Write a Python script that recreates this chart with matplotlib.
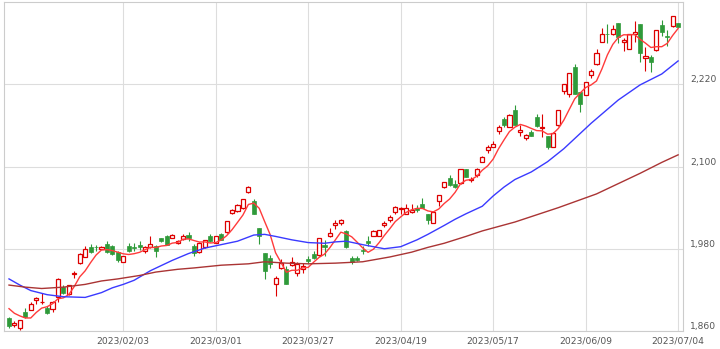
import numpy as np
import matplotlib.pyplot as plt

# daily OHLC, 2023/01/04 - 2023/07/04 (trading days)
opens = [1879, 1869, 1864, 1888, 1891, 1905, 1902, 1893, 1892, 1910,
         1924, 1914, 1943, 1959, 1968, 1983, 1983, 1980, 1987, 1984,
         1975, 1961, 1984, 1983, 1986, 1976, 1982, 1984, 1995, 1998,
         1996, 1988, 1994, 2000, 1984, 1975, 1983, 1998, 1989, 2002,
         2004, 2032, 2035, 2039, 2063, 2049, 2010, 1974, 1967, 1928,
         1952, 1951, 1956, 1944, 1950, 1965, 1973, 1971, 1985, 1998,
         2014, 2018, 2006, 1967, 1966, 1978, 1992, 1998, 1999, 2014,
         2022, 2033, 2038, 2031, 2033, 2040, 2046, 2030, 2018, 2050,
         2070, 2083, 2075, 2076, 2097, 2080, 2088, 2107, 2124, 2128,
         2152, 2169, 2158, 2183, 2150, 2141, 2151, 2172, 2156, 2144,
         2129, 2160, 2210, 2206, 2245, 2209, 2205, 2234, 2249, 2282,
         2294, 2293, 2309, 2282, 2272, 2293, 2308, 2259, 2260, 2270,
         2306, 2291, 2305, 2309]
highs = [1880, 1874, 1876, 1894, 1902, 1910, 1915, 1897, 1904, 1937,
         1927, 1927, 1948, 1974, 1984, 1987, 1985, 1984, 1991, 1986,
         1976, 1970, 1989, 1989, 1991, 1984, 1999, 1986, 1996, 2000,
         2002, 1993, 2002, 2004, 1987, 1990, 1993, 2002, 1998, 2003,
         2021, 2038, 2045, 2052, 2071, 2053, 2011, 1974, 1971, 1940,
         1965, 1955, 1968, 1960, 1959, 1970, 1977, 1996, 1993, 2010,
         2022, 2024, 2008, 1970, 1970, 1984, 1999, 2007, 2008, 2021,
         2029, 2043, 2041, 2045, 2046, 2044, 2054, 2031, 2033, 2058,
         2078, 2087, 2080, 2097, 2097, 2084, 2098, 2115, 2131, 2137,
         2160, 2172, 2176, 2189, 2160, 2148, 2153, 2176, 2176, 2145,
         2150, 2183, 2220, 2236, 2250, 2209, 2224, 2242, 2272, 2302,
         2308, 2306, 2309, 2287, 2294, 2312, 2308, 2275, 2262, 2299,
         2314, 2299, 2319, 2310]
lows = [1865, 1866, 1862, 1879, 1890, 1900, 1899, 1885, 1888, 1902,
        1914, 1913, 1937, 1958, 1968, 1974, 1977, 1979, 1974, 1971,
        1961, 1961, 1975, 1977, 1978, 1974, 1981, 1968, 1990, 1985,
        1996, 1987, 1993, 1991, 1970, 1974, 1981, 1990, 1989, 1993,
        2003, 2031, 2034, 2038, 2062, 2030, 1987, 1936, 1952, 1911,
        1951, 1928, 1955, 1940, 1945, 1959, 1965, 1970, 1970, 1997,
        2009, 2014, 1981, 1958, 1962, 1972, 1984, 1998, 1998, 2012,
        2019, 2031, 2031, 2030, 2032, 2034, 2040, 2016, 2017, 2042,
        2069, 2071, 2069, 2075, 2084, 2077, 2084, 2106, 2119, 2128,
        2148, 2158, 2157, 2160, 2145, 2139, 2144, 2158, 2143, 2126,
        2129, 2159, 2206, 2201, 2206, 2180, 2204, 2229, 2248, 2281,
        2280, 2292, 2280, 2268, 2271, 2282, 2253, 2240, 2238, 2269,
        2291, 2276, 2304, 2304]
closes = [1868, 1871, 1876, 1880, 1900, 1908, 1903, 1886, 1902, 1936,
          1915, 1927, 1945, 1972, 1980, 1975, 1982, 1982, 1975, 1972,
          1964, 1970, 1977, 1981, 1982, 1983, 1987, 1976, 1992, 1986,
          2000, 1992, 1999, 1995, 1974, 1989, 1993, 1991, 1998, 1993,
          2020, 2037, 2044, 2052, 2070, 2030, 1999, 1947, 1958, 1937,
          1959, 1928, 1961, 1958, 1955, 1962, 1966, 1996, 1982, 2003,
          2018, 2022, 1983, 1961, 1964, 1977, 1989, 2006, 2007, 2018,
          2026, 2041, 2040, 2040, 2037, 2037, 2040, 2022, 2033, 2058,
          2077, 2073, 2070, 2096, 2084, 2082, 2097, 2114, 2128, 2133,
          2158, 2161, 2175, 2160, 2153, 2146, 2144, 2159, 2158, 2129,
          2149, 2183, 2220, 2236, 2206, 2191, 2223, 2239, 2265, 2294,
          2293, 2300, 2289, 2285, 2293, 2296, 2265, 2261, 2253, 2299,
          2296, 2289, 2319, 2304]
# last closes of 2022, needed for the 5-day average at the left edge
prev_closes = [1905, 1895, 1895, 1900]

# 25-day and 75-day averages (day index, value)
ma25_day = [0, 2, 4, 7, 10, 14, 17, 19, 21, 23, 26, 30, 33, 36, 39, 42, 45, 47,
            49, 52, 55, 58, 60, 62, 65, 69, 72, 75, 77, 80, 82, 84, 87, 89, 91,
            93, 96, 99, 102, 107, 112, 116, 120, 123]
ma25_val = [1936, 1927, 1919, 1913, 1910, 1909, 1916, 1923, 1928, 1934, 1948,
            1963, 1973, 1981, 1986, 1991, 2000, 2001, 1998, 1993, 1989, 1988,
            1990, 1991, 1986, 1980, 1983, 1993, 2001, 2014, 2023, 2031, 2042,
            2057, 2070, 2081, 2092, 2107, 2126, 2163, 2197, 2219, 2235, 2254]
ma75_day = [0, 3, 6, 10, 14, 17, 20, 24, 27, 31, 34, 39, 44, 47, 51, 55, 60,
            65, 70, 74, 77, 80, 84, 87, 93, 101, 108, 116, 120, 123]
ma75_val = [1927, 1924, 1922, 1924, 1928, 1933, 1936, 1941, 1946, 1950, 1952,
            1956, 1958, 1961, 1959, 1958, 1959, 1961, 1968, 1975, 1982, 1988,
            1998, 2006, 2019, 2040, 2060, 2090, 2106, 2117]

tick_days = [21, 38, 55, 72, 89, 106, 123]
tick_labels = ['2023/02/03', '2023/03/01', '2023/03/27', '2023/04/19',
               '2023/05/17', '2023/06/09', '2023/07/04']
price_ticks = [1860, 1980, 2100, 2220]

o = np.array(opens)
h = np.array(highs)
l = np.array(lows)
c = np.array(closes)
x = np.arange(len(c))
ma5 = np.convolve(np.r_[prev_closes, c], np.ones(5) / 5, mode='valid')

up_col = '#dd0000'
dn_col = '#2f9a3a'

fig = plt.figure(figsize=(7.2, 3.49), dpi=100)
ax = fig.add_axes([4 / 720, 18 / 349, 679 / 720, 329 / 349])

up = c >= o
cols = np.where(up, up_col, dn_col)
ax.vlines(x, l, h, colors=cols, lw=0.8, zorder=2)
body = np.maximum(np.abs(c - o), 0.6)
ax.bar(x[up], body[up], bottom=np.minimum(o, c)[up], width=0.75,
       facecolor='white', edgecolor=up_col, lw=0.9, zorder=3)
ax.bar(x[~up], body[~up], bottom=np.minimum(o, c)[~up], width=0.75,
       facecolor=dn_col, edgecolor=dn_col, lw=0.5, zorder=3)

ax.plot(x, ma5, color='#ff3b3b', lw=1.0, zorder=4)
ax.plot(ma25_day, ma25_val, color='#3a3aff', lw=1.0, zorder=4)
ax.plot(ma75_day, ma75_val, color='#aa3434', lw=1.0, zorder=4)

ax.set_xlim(-0.92, 123.9)
ax.set_ylim(1860, 2340)
ax.set_xticks(tick_days)
ax.set_xticklabels(tick_labels)
ax.set_yticks(price_ticks)
ax.set_yticklabels([f'{v:,}' for v in price_ticks])
ax.yaxis.tick_right()
for lab in ax.get_yticklabels():
    lab.set_va('bottom')
ax.tick_params(axis='both', length=0, labelsize=6.6, labelcolor='#555555')
ax.tick_params(axis='y', pad=5)
ax.tick_params(axis='x', pad=4)
ax.grid(True, color='#dddddd', lw=0.8, zorder=0)
ax.set_axisbelow(True)
for s in ax.spines.values():
    s.set_color('#cccccc')
    s.set_linewidth(0.8)

fig.savefig('out.png', dpi=100)
